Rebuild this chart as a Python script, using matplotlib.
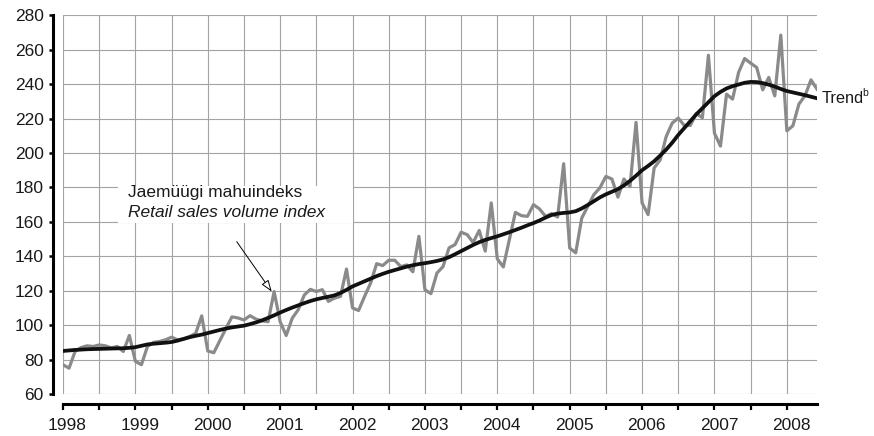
import numpy as np
import matplotlib
matplotlib.use('Agg')
import matplotlib.pyplot as plt
from matplotlib.patches import Rectangle

plt.rcParams['font.family'] = ['Liberation Sans', 'DejaVu Sans']

OUT = 'out.png'

# monthly, Jan 1998 .. Jun 2008
years = list(range(1998, 2009))

sales = [77, 75, 84.7, 87, 88, 87.6, 88.5, 88, 86.8, 87.6, 84.7, 94,
         79, 77, 87.6, 90, 90.5, 91.5, 93, 91.5, 92, 93.4, 95.3, 105.4,
         85, 84, 91, 98, 104.8, 104.2, 103, 105.5, 103.5, 102.5, 102, 119.5,
         102, 94, 104, 109, 117.5, 120.8, 119.5, 120.6, 113.8, 115.7, 116.7, 132.6,
         110, 108.5, 116.7, 124.5, 135.7, 134.6, 137.7, 137.7, 134, 135, 131, 151.6,
         120.6, 118.3, 130.3, 134, 144.9, 146.8, 154, 152.6, 148, 155, 143, 171,
         138.5, 133.8, 149.7, 165.5, 163.6, 163.2, 170, 167.5, 163.2, 164.8, 162.8, 193.8,
         144.8, 142, 162.2, 169, 175.8, 179.7, 186.4, 184.9, 174.4, 184.9, 180.6, 217.8,
         171, 164.2, 191.3, 196, 209.6, 217.4, 220.3, 216, 216, 223, 220.5, 256.8,
         211.5, 204, 234.2, 231.3, 246.8, 254.9, 252.2, 249.7, 236.7, 243.9, 233.2, 268.5,
         212.9, 215.8, 228.4, 233.2, 242.5, 237.1]

trend = [85.0, 85.3, 85.6, 85.8, 86.0, 86.1, 86.2, 86.3, 86.4, 86.5, 86.6, 86.8,
         87.2, 88.0, 88.8, 89.2, 89.5, 89.8, 90.2, 91.0, 92.0, 93.0, 93.8, 94.5,
         95.4, 96.3, 97.2, 98.0, 98.7, 99.2, 99.7, 100.6, 101.6, 102.8, 104.2, 105.7,
         107.3, 108.8, 110.2, 111.5, 112.8, 114.0, 115.0, 115.8, 116.5, 117.3, 118.7, 120.5,
         122.5, 124.0, 125.5, 127.0, 128.5, 129.8, 131.0, 132.0, 133.0, 134.0, 134.8, 135.5,
         136.0, 136.6, 137.3, 138.2, 139.5, 141.2, 143.0, 144.8, 146.6, 148.2, 149.5, 150.6,
         151.6, 152.8, 154.0, 155.3, 156.6, 158.0, 159.3, 160.8, 162.5, 164.0, 164.8, 165.2,
         165.5, 166.2, 167.8, 169.8, 172.0, 174.2, 176.0, 177.5, 179.0, 181.2, 183.8, 186.8,
         190.0, 192.5, 195.2, 198.5, 202.0, 206.0, 210.5, 214.5, 218.5, 222.5, 226.0, 229.5,
         233.0, 235.5, 237.5, 238.8, 239.8, 240.8, 241.3, 241.2, 240.6, 239.7, 238.6, 237.2,
         236.0, 235.2, 234.4, 233.6, 232.7, 231.8]

months = np.arange(len(sales))

fig = plt.figure(figsize=(8.74, 4.36), dpi=100)
ax = fig.add_axes([63 / 874, 1 - 394 / 436, (817 - 63) / 874, (394 - 15.3) / 436])

ax.plot(months, sales, color='#8a8a8a', lw=2.3, zorder=3, solid_joinstyle='round')
ax.plot(months, trend, color='#111111', lw=2.7, zorder=4, solid_joinstyle='round')

ax.set_xlim(0, len(sales) - 1)
ax.set_ylim(60, 280)

# half-year ticks/grid, year labels slightly right of the January tick
ax.set_xticks(np.arange(0, len(sales), 6))
ax.set_xticklabels([])
ax.set_xticks(np.arange(0, len(sales), 12) + 0.75, minor=True)
ax.set_xticklabels([str(y) for y in years], minor=True)
ax.set_yticks(np.arange(60, 281, 20))

ax.set_axisbelow(True)
ax.grid(True, which='major', color='#a3a3a3', lw=0.8)

for s in ['top', 'right']:
    ax.spines[s].set_visible(False)
ax.spines['left'].set_position(('outward', 7))
ax.spines['bottom'].set_position(('outward', 7))
ax.spines['left'].set_linewidth(2.2)
ax.spines['bottom'].set_linewidth(2.2)

ax.tick_params(axis='y', which='major', length=3, width=1.8, pad=4,
               labelsize=12.5, labelcolor='#1a1a1a')
ax.tick_params(axis='x', which='major', length=4.5, width=1.6, direction='out')
ax.tick_params(axis='x', which='minor', length=0, pad=10,
               labelsize=12.5, labelcolor='#1a1a1a')

# label box for the monthly series
ax.add_patch(Rectangle((9.1, 159.4), 39, 21.6, facecolor='white',
                       edgecolor='none', zorder=2))
ax.text(10.8, 176.8, 'Jaemüügi mahuindeks', fontsize=12.5, color='#1a1a1a',
        va='center', ha='left', zorder=5)
ax.text(10.8, 165.2, 'Retail sales volume index', fontsize=12.5, color='#1a1a1a',
        style='italic', va='center', ha='left', zorder=5)
ax.annotate('', xy=(34.6, sales[35]), xytext=(28.8, 148.5),
            arrowprops=dict(arrowstyle='-|>,head_length=0.7,head_width=0.25',
                            fc='white', ec='black', lw=0.7, shrinkA=0, shrinkB=0),
            zorder=5)

# trend label with a small superscript note mark
t = ax.annotate('Trend', xy=(months[-1], trend[-1]), xytext=(3.5, 0),
                textcoords='offset points', va='center', ha='left', fontsize=11.8,
                color='#1a1a1a', annotation_clip=False)
ax.annotate('b', xy=(1, 0.5), xycoords=t, xytext=(-1.2, 0),
            textcoords='offset points', va='bottom', ha='left', fontsize=7.5,
            color='#1a1a1a', annotation_clip=False)

plt.savefig(OUT, dpi=100)
